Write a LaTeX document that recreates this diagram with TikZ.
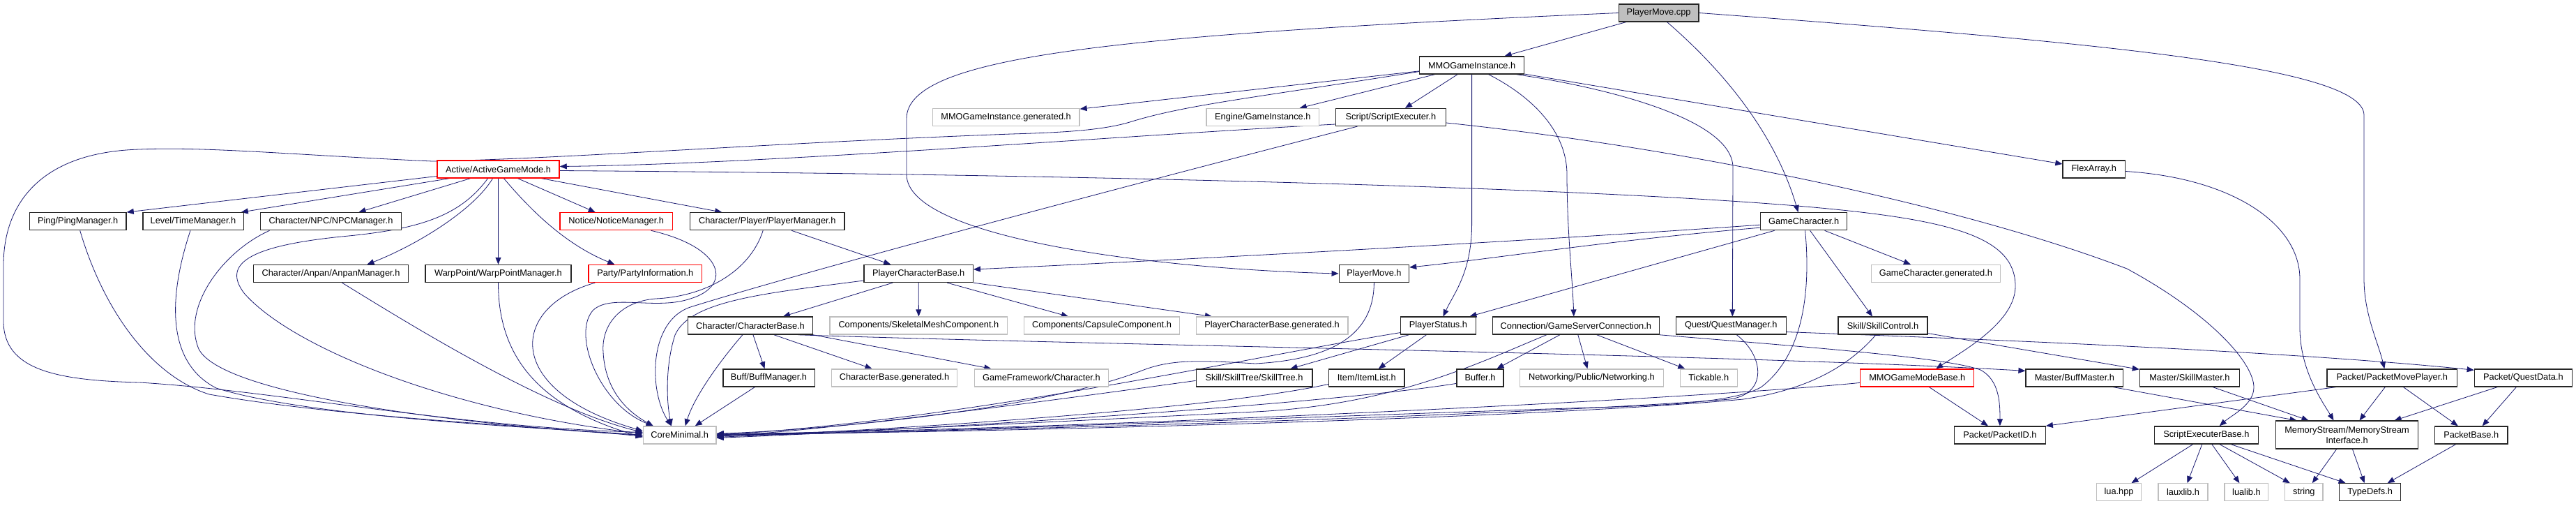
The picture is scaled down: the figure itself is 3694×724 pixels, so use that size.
\documentclass[tikz,border=0pt]{standalone}
\usepackage{fontspec}
\setmainfont{Liberation Sans}
\usetikzlibrary{arrows.meta}
\definecolor{edgec}{HTML}{191970}
\definecolor{gborder}{HTML}{BFBFBF}
\definecolor{srcfill}{HTML}{BFBFBF}
\newcommand\graphfont{\fontsize{12.8}{15}\selectfont}
\newcommand\mynode[6]{\node[#5,minimum width=#4pt] (#1) at (#2,#3) {#6};}
\pgfdeclarelayer{bgzero}
\pgfdeclarelayer{edgelayer}
\pgfsetlayers{bgzero,edgelayer,main}
\begin{document}
\begin{tikzpicture}[x=1pt,y=-1pt,
  base/.style={rectangle, minimum height=25pt, inner xsep=2pt, inner ysep=0pt, font=\graphfont, text=black, line width=1.3pt, fill=white},
  bk/.style={base, draw=black!85},
  gy/.style={base, draw=gborder},
  rd/.style={base, draw=red},
  src/.style={base, draw=black!85, fill=srcfill},
  edg/.style={draw=edgec, line width=0.8pt, -{Triangle[length=10pt,width=8pt]}}]
\useasboundingbox (0,0) rectangle (3694,724);
\begin{pgfonlayer}{bgzero}
\fill[white] (0,0) rectangle (3694,724);
\end{pgfonlayer}
% nodes
\mynode{cpp}{2378.6}{18.5}{114.9}{src}{PlayerMove.cpp}
\mynode{mgi}{2110.6}{93.5}{149.8}{bk}{MMOGameInstance.h}
\mynode{mgigen}{1442.6}{168}{210.8}{gy}{MMOGameInstance.generated.h}
\mynode{engine}{1810.8}{168}{161.8}{gy}{Engine/GameInstance.h}
\mynode{se}{1994.4}{168}{157.8}{bk}{Script/ScriptExecuter.h}
\mynode{agm}{714.5}{242.5}{175.2}{rd}{Active/ActiveGameMode.h}
\mynode{flex}{3002.8}{242.5}{89.6}{bk}{FlexArray.h}
\mynode{ping}{111.7}{317.2}{138.8}{bk}{Ping/PingManager.h}
\mynode{level}{277}{317.2}{144.3}{bk}{Level/TimeManager.h}
\mynode{npc}{474.5}{317.2}{201.7}{bk}{Character/NPC/NPCManager.h}
\mynode{notice}{883.7}{317.2}{161.7}{rd}{Notice/NoticeManager.h}
\mynode{pman}{1100.2}{317.2}{221.4}{bk}{Character/Player/PlayerManager.h}
\mynode{gc}{2586.6}{317.2}{124.4}{bk}{GameCharacter.h}
\mynode{anpan}{474.5}{392}{221.4}{bk}{Character/Anpan/AnpanManager.h}
\mynode{warp}{714.5}{392}{209.2}{bk}{WarpPoint/WarpPointManager.h}
\mynode{party}{925.3}{392}{162.5}{rd}{Party/PartyInformation.h}
\mynode{pcb}{1317.2}{392}{156.2}{bk}{PlayerCharacterBase.h}
\mynode{pmh}{1970.4}{392}{100.4}{bk}{PlayerMove.h}
\mynode{gcgen}{2775.9}{392}{185.3}{gy}{GameCharacter.generated.h}
\mynode{cb}{1075.9}{466.6}{179.1}{bk}{Character/CharacterBase.h}
\mynode{skel}{1317.4}{466.6}{254.8}{gy}{Components/SkeletalMeshComponent.h}
\mynode{caps}{1580}{466.6}{223}{gy}{Components/CapsuleComponent.h}
\mynode{pcbgen}{1824}{466.6}{217.7}{gy}{PlayerCharacterBase.generated.h}
\mynode{ps}{2062.4}{466.6}{107.9}{bk}{PlayerStatus.h}
\mynode{conn}{2259.8}{466.6}{238.8}{bk}{Connection/GameServerConnection.h}
\mynode{qm}{2482.3}{466.6}{158}{bk}{Quest/QuestManager.h}
\mynode{sc}{2700}{466.6}{128.1}{bk}{Skill/SkillControl.h}
\mynode{buffm}{1102.5}{541.4}{131.3}{bk}{Buff/BuffManager.h}
\mynode{cbgen}{1282.5}{541.4}{180.5}{gy}{CharacterBase.generated.h}
\mynode{gfc}{1493.4}{541.4}{192.2}{gy}{GameFramework/Character.h}
\mynode{st}{1798.5}{541.4}{166.7}{bk}{Skill/SkillTree/SkillTree.h}
\mynode{il}{1959.8}{541.4}{108.3}{bk}{Item/ItemList.h}
\mynode{buf}{2122.5}{541.4}{66.8}{bk}{Buffer.h}
\mynode{net}{2282.4}{541.4}{205.6}{gy}{Networking/Public/Networking.h}
\mynode{tick}{2450.3}{541.4}{81.7}{gy}{Tickable.h}
\mynode{mgmb}{2749.3}{541.4}{163}{rd}{MMOGameModeBase.h}
\mynode{bmaster}{2974.9}{541.4}{139.7}{bk}{Master/BuffMaster.h}
\mynode{smaster}{3139.9}{541.4}{143}{bk}{Master/SkillMaster.h}
\mynode{pmp}{3430.3}{541.4}{186.8}{bk}{Packet/PacketMovePlayer.h}
\mynode{qd}{3618.4}{541.4}{140.2}{bk}{Packet/QuestData.h}
\mynode{core}{974.7}{623.4}{104.8}{gy}{CoreMinimal.h}
\mynode{pid}{2867.9}{623.4}{130.6}{bk}{Packet/PacketID.h}
\mynode{seb}{3163.8}{623.4}{149.3}{bk}{ScriptExecuterBase.h}
\node[bk,minimum width=203.9pt,minimum height=40pt,align=center] (ms) at (3365.5,623.1) {MemoryStream/MemoryStream\\Interface.h};
\mynode{pb}{3543.7}{623.4}{104.3}{bk}{PacketBase.h}
\mynode{lua}{3038.5}{705.3}{63.8}{gy}{lua.hpp}
\mynode{lauxlib}{3130.5}{705.3}{70.9}{gy}{lauxlib.h}
\mynode{lualib}{3221.4}{705.3}{62.6}{gy}{lualib.h}
\mynode{string}{3303.8}{705.3}{54.6}{gy}{string}
\mynode{td}{3398.6}{705.3}{87.6}{bk}{TypeDefs.h}
% edges
\begin{pgfonlayer}{edgelayer}
% PlayerMove.cpp
\draw[edg] (cpp) -- (mgi);
\draw[edg] ([xshift=12pt]cpp.south) .. controls (2470,100) and (2545,190) .. ([xshift=-8pt]gc.north);
\draw[edg] (cpp.west) .. controls (1600,50) and (1300,80) .. (1300,170) -- (1300,250) .. controls (1300,340) and (1650,385) .. (pmh.west);
\draw[edg] (cpp.east) .. controls (3000,60) and (3390,95) .. (3390,165) -- (3390,400) .. controls (3390,450) and (3410,490) .. ([xshift=-11pt]pmp.north);
% MMOGameInstance.h
\draw[edg] (mgi) -- (mgigen);
\draw[edg] (mgi) -- (engine);
\draw[edg] (mgi) -- (se);
\draw[edg] ([yshift=-9pt]mgi.west) .. controls (1800,140) and (1700,150) .. (1620,175) .. controls (1580,187) and (1520,190) .. (1450,192) .. controls (1100,205) and (800,228) .. (620,231) .. controls (420,222) and (300,210) .. (200,214) .. controls (60,218) and (5,290) .. (5,380) -- (5,460) .. controls (5,530) and (80,545) .. (200,548) .. controls (400,560) and (650,612) .. ([yshift=4pt]core.west);
\draw[edg] (mgi.south) -- (2110.6,320) .. controls (2110.6,390) and (2085,420) .. ([xshift=7pt]ps.north);
\draw[edg] ([xshift=24pt]mgi.south) .. controls (2200,140) and (2247,190) .. (2247,250) .. controls (2247,330) and (2255,400) .. ([xshift=-3pt]conn.north);
\draw[edg] ([xshift=64pt]mgi.south) .. controls (2300,125) and (2485,170) .. (2485,240) -- ([xshift=2pt]qm.north);
\draw[edg] (mgi) -- (flex);
% Script/ScriptExecuter.h
\draw[edg] ([yshift=-10pt]se.west) .. controls (1600,195) and (1100,235) .. ([yshift=4pt]agm.east);
\draw[edg] ([xshift=-48pt]se.south) .. controls (1600,270) and (1150,390) .. (990,440) .. controls (930,460) and (930,560) .. ([xshift=-12pt]core.north);
\draw[edg] ([yshift=-8pt]se.east) .. controls (2400,210) and (2800,290) .. (3050,385) .. controls (3170,450) and (3232,520) .. (3232,555) .. controls (3232,580) and (3200,595) .. ([xshift=19pt]seb.north);
% Active/ActiveGameMode.h
\draw[edg] ([yshift=-10pt]agm.west) -- (ping.north east);
\draw[edg] ([xshift=-70pt]agm.south) -- ([xshift=-4pt]level.north east);
\draw[edg] ([xshift=-40pt]agm.south) -- ([xshift=40pt]npc.north);
\draw[edg] ([xshift=-8pt]agm.south) .. controls (680,300) and (600,350) .. ([xshift=52pt]anpan.north);
\draw[edg] ([xshift=-15pt]agm.south) .. controls (660,310) and (600,328) .. (500,338) .. controls (350,352) and (320,380) .. (350,420) .. controls (420,500) and (650,590) .. ([yshift=2pt]core.west);
\draw[edg] (agm.south) -- (warp.north);
\draw[edg] ([xshift=8pt]agm.south) .. controls (760,300) and (810,350) .. ([xshift=-44pt]party.north);
\draw[edg] ([xshift=28pt]agm.south) -- ([xshift=-30pt]notice.north);
\draw[edg] ([xshift=62pt]agm.south) -- ([xshift=-65pt]pman.north);
\draw[edg] ([yshift=-2pt]agm.east) .. controls (1600,250) and (2300,270) .. (2600,297) .. controls (2800,315) and (2890,340) .. (2890,410) .. controls (2890,460) and (2820,500) .. ([xshift=27pt]mgmb.north);
% managers to CoreMinimal
\draw[edg] ([xshift=3pt]ping.south) .. controls (150,450) and (220,540) .. (300,565) .. controls (500,600) and (800,612) .. ([yshift=-2pt]core.west);
\draw[edg] ([xshift=-4pt]level.south) .. controls (240,430) and (240,520) .. (310,556) .. controls (450,600) and (800,614) .. (core.west);
\draw[edg] ([xshift=-88pt]npc.south) .. controls (320,360) and (260,440) .. (285,500) .. controls (320,570) and (700,612) .. (core.west);
\draw[edg] ([xshift=16pt]anpan.south) .. controls (580,460) and (780,585) .. ([yshift=4pt]core.west);
\draw[edg] (warp.south) .. controls (714.5,500) and (760,580) .. ([yshift=-3pt]core.west);
\draw[edg] ([xshift=-72pt]party.south) .. controls (730,440) and (720,560) .. ([yshift=6pt]core.west);
\draw[edg] ([xshift=50pt]notice.south) .. controls (1040,355) and (1050,410) .. (990,428) .. controls (940,445) and (875,420) .. (850,445) .. controls (820,480) and (860,580) .. ([xshift=-38pt]core.north);
\draw[edg] ([xshift=-6pt]pman.south) .. controls (1075,390) and (1010,425) .. (940,428) .. controls (890,432) and (862,465) .. (865,505) .. controls (868,560) and (900,590) .. ([xshift=-38pt]core.north);
\draw[edg] ([xshift=35pt]pman.south) -- ([xshift=-40pt]pcb.north);
% PlayerCharacterBase.h
\draw[edg] ([yshift=-10pt]pcb.west) .. controls (1100,420) and (990,430) .. (968,480) .. controls (955,520) and (955,570) .. ([xshift=-12pt]core.north);
\draw[edg] ([xshift=-37pt]pcb.south) -- ([xshift=47pt]cb.north);
\draw[edg] (pcb.south) -- (skel.north);
\draw[edg] ([xshift=41pt]pcb.south) -- ([xshift=-48pt]caps.north);
\draw[edg] (pcb.south east) -- ([xshift=-86pt]pcbgen.north);
% GameCharacter.h
\draw[edg] ([yshift=-5pt]gc.west) .. controls (2200,345) and (1700,372) .. ([yshift=6pt]pcb.east);
\draw[edg] ([yshift=-9pt]gc.west) .. controls (2300,345) and (2150,370) .. ([yshift=9pt]pmh.east);
\draw[edg] ([xshift=-42pt]gc.south) -- ([xshift=45pt]ps.north);
\draw[edg] ([xshift=30pt]gc.south) -- ([xshift=-36pt]gcgen.north);
\draw[edg] ([xshift=9pt]gc.south) -- ([xshift=-15pt]sc.north);
\draw[edg] ([xshift=2pt]gc.south) .. controls (2597,420) and (2585,510) .. (2525,555) .. controls (2480,580) and (2350,582) .. (2250,585) .. controls (1800,600) and (1300,620) .. ([yshift=-1pt]core.east);
% PlayerMove.h
\draw[edg] (pmh.south) .. controls (1970,480) and (1910,515) .. (1800,521) .. controls (1720,516) and (1680,515) .. (1640,530) .. controls (1500,585) and (1200,615) .. ([yshift=2pt]core.east);
% PlayerStatus.h
\draw[edg] ([xshift=-42pt]ps.south) -- ([xshift=52pt]st.north);
\draw[edg] ([xshift=-17pt]ps.south) -- ([xshift=17pt]il.north);
\draw[edg] ([yshift=-10pt]ps.west) .. controls (1800,510) and (1400,600) .. (core.east);
\draw[edg] ([yshift=-4pt]st.west) .. controls (1500,575) and (1200,615) .. ([yshift=-2pt]core.east);
\draw[edg] ([yshift=-9pt]il.west) .. controls (1750,585) and (1300,615) .. ([yshift=-3pt]core.east);
\draw[edg] ([yshift=-8pt]buf.west) .. controls (1900,580) and (1300,617) .. ([yshift=-4pt]core.east);
% Connection
\draw[edg] ([xshift=-42pt]conn.south) .. controls (2120,520) and (2000,580) .. (1800,590) .. controls (1500,605) and (1200,620) .. (core.east);
\draw[edg] ([xshift=-23pt]conn.south) -- ([xshift=24pt]buf.north);
\draw[edg] ([xshift=3pt]conn.south) -- ([xshift=-6pt]net.north);
\draw[edg] ([xshift=30pt]conn.south) -- ([xshift=-34pt]tick.north);
\draw[edg] (conn.south east) .. controls (2600,498) and (2790,512) .. (2840,530) .. controls (2868,545) and (2868,580) .. (pid.north);
% Quest manager
\draw[edg] ([xshift=8pt]qm.south) .. controls (2530,510) and (2535,565) .. (2480,572) .. controls (2200,595) and (1400,618) .. (core.east);
\draw[edg] ([yshift=-9pt]qm.east) .. controls (2900,488) and (3300,505) .. ([yshift=-2pt]qd.north west);
% Skill control
\draw[edg] ([yshift=-11pt]sc.east) -- ([yshift=-1pt]smaster.north west);
\draw[edg] ([xshift=-10pt]sc.south) .. controls (2655,520) and (2600,557) .. (2500,572) .. controls (2200,600) and (1400,620) .. ([yshift=1pt]core.east);
% MMOGameModeBase
\draw[edg] ([yshift=-7pt]mgmb.west) .. controls (2400,575) and (1400,620) .. ([yshift=2pt]core.east);
\draw[edg] ([xshift=17pt]mgmb.south) -- ([xshift=-17pt]pid.north);
% CharacterBase
\draw[edg] ([xshift=-11pt]cb.south) .. controls (1030,520) and (995,570) .. ([xshift=8pt]core.north);
\draw[edg] ([xshift=4pt]cb.south) -- ([xshift=-6pt]buffm.north);
\draw[edg] ([xshift=34pt]cb.south) -- ([xshift=-32pt]cbgen.north);
\draw[edg] (cb.south east) -- ([xshift=-72pt]gfc.north);
\draw[edg] ([xshift=-22pt]cb.south east) .. controls (1600,495) and (2500,508) .. ([yshift=10pt]bmaster.west);
\draw[edg] ([xshift=-20pt]buffm.south) -- ([xshift=22pt]core.north);
% masters / packets
\draw[edg] ([xshift=55pt]bmaster.south) -- ([xshift=-72pt]ms.north);
\draw[edg] ([xshift=33pt]smaster.south) -- ([xshift=-55pt]ms.north);
\draw[edg] ([yshift=-3pt]flex.east) .. controls (3200,255) and (3298,320) .. (3298,400) -- (3298,470) .. controls (3298,530) and (3330,575) .. ([xshift=-19pt]ms.north);
\draw[edg] ([xshift=-10pt]pmp.south) -- ([xshift=18pt]ms.north);
\draw[edg] ([xshift=16pt]pmp.south) -- ([xshift=-19pt]pb.north);
\draw[edg] ([xshift=-80pt]pmp.south) -- (pid.north east);
\draw[edg] ([xshift=-37pt]qd.south) -- ([xshift=68pt]ms.north);
\draw[edg] ([xshift=-10pt]qd.south) -- ([xshift=16pt]pb.north);
% ScriptExecuterBase
\draw[edg] ([xshift=-19pt]seb.south) -- ([xshift=18pt]lua.north);
\draw[edg] ([xshift=-6pt]seb.south) -- ([xshift=6pt]lauxlib.north);
\draw[edg] ([xshift=8pt]seb.south) -- ([xshift=-10pt]lualib.north);
\draw[edg] ([xshift=19pt]seb.south) -- ([xshift=-20pt]string.north);
\draw[edg] ([xshift=35pt]seb.south) -- ([xshift=-35pt]td.north);
% MemoryStream / PacketBase
\draw[edg] ([xshift=-15pt]ms.south) -- ([xshift=12pt]string.north);
\draw[edg] ([xshift=8pt]ms.south) -- ([xshift=-8pt]td.north);
\draw[edg] ([xshift=-22pt]pb.south) -- ([xshift=25pt]td.north);
\end{pgfonlayer}
\end{tikzpicture}
\end{document}
